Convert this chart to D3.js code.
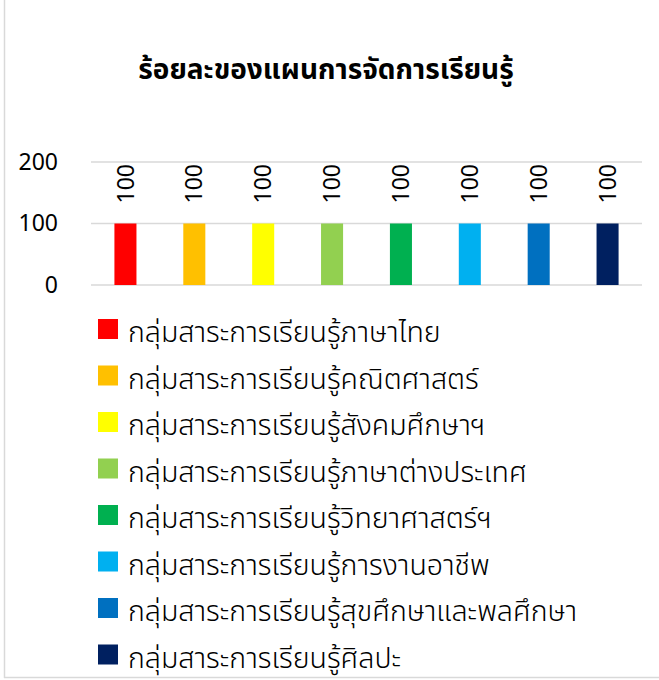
<!DOCTYPE html>
<html>
<head>
<meta charset="utf-8">
<script src="https://cdn.jsdelivr.net/npm/d3@7"></script>
<style>
  body { margin: 0; background: #fff; }
  text { font-family: "Noto Sans Thai", "Noto Sans", "DejaVu Sans", sans-serif; fill: #000; }
</style>
</head>
<body>
<div id="chart"></div>
<script>
var categories = ["กลุ่มสาระการเรียนรู้ภาษาไทย", "กลุ่มสาระการเรียนรู้คณิตศาสตร์", "กลุ่มสาระการเรียนรู้สังคมศึกษาฯ",
    "กลุ่มสาระการเรียนรู้ภาษาต่างประเทศ", "กลุ่มสาระการเรียนรู้วิทยาศาสตร์ฯ", "กลุ่มสาระการเรียนรู้การงานอาชีพ",
    "กลุ่มสาระการเรียนรู้สุขศึกษาและพลศึกษา", "กลุ่มสาระการเรียนรู้ศิลปะ"];
var values = [100, 100, 100, 100, 100, 100, 100, 100];
var colors = ["#FF0000", "#FFC000", "#FFFF00", "#92D050", "#00B050", "#00B0F0", "#0070C0", "#002060"];
var yTicks = [0, 100, 200];
var title = "ร้อยละของแผนการจัดการเรียนรู้";

var W = 659, H = 680;
var margin = {top: 162, right: 17, bottom: 395, left: 91},
    width = W - margin.left - margin.right,
    height = H - margin.top - margin.bottom;

var svg = d3.select("#chart").append("svg")
    .attr("width", W)
    .attr("height", H);

// outer frame (only left + bottom show)
svg.append("line").attr("x1", 4.5).attr("x2", 4.5).attr("y1", 0).attr("y2", 678)
    .attr("stroke", "#d9d9d9").attr("stroke-width", 1.5);
svg.append("line").attr("x1", 4).attr("x2", W).attr("y1", 677.5).attr("y2", 677.5)
    .attr("stroke", "#d9d9d9").attr("stroke-width", 1.5);

svg.append("text")
    .attr("x", 326)
    .attr("y", 79)
    .attr("text-anchor", "middle")
    .style("font-size", "28px")
    .style("font-weight", "bold")
    .text(title);

var g = svg.append("g")
    .attr("transform", "translate(" + margin.left + "," + margin.top + ")");

var x = d3.scaleBand()
    .domain(categories)
    .range([0, width])
    .paddingInner(0.68)
    .paddingOuter(0.34);

var y = d3.scaleLinear()
    .domain([0, 200])
    .range([height, 0]);

// gridlines
g.append("g")
    .selectAll("line")
    .data(yTicks)
    .enter().append("line")
    .attr("x1", 0)
    .attr("x2", width)
    .attr("y1", function(d) { return y(d); })
    .attr("y2", function(d) { return y(d); })
    .attr("stroke", "#d9d9d9")
    .attr("stroke-width", 1.5);

// y axis labels
var yAxis = d3.axisLeft(y).tickValues(yTicks).tickSize(0).tickPadding(33);
g.append("g")
    .attr("class", "y axis")
    .call(yAxis)
    .call(function(s) { s.select(".domain").remove(); })
    .selectAll("text")
    .style("font-size", "23px")
    .attr("fill", "#000");

// bars
g.selectAll(".bar")
    .data(values)
    .enter().append("rect")
    .attr("class", "bar")
    .attr("x", function(d, i) { return x(categories[i]); })
    .attr("width", x.bandwidth())
    .attr("y", function(d) { return y(d); })
    .attr("height", function(d) { return height - y(d); })
    .attr("fill", function(d, i) { return colors[i]; });

// value labels, rotated
g.selectAll(".lbl")
    .data(values)
    .enter().append("text")
    .attr("class", "lbl")
    .attr("transform", function(d, i) {
        var cx = x(categories[i]) + x.bandwidth() / 2;
        return "translate(" + cx + "," + (y(d) - 20) + ") rotate(-90)";
    })
    .attr("dy", "0.35em")
    .attr("text-anchor", "start")
    .style("font-size", "23px")
    .text(function(d) { return d; });

// legend
var legend = svg.append("g")
    .attr("transform", "translate(98,319)");

var item = legend.selectAll(".item")
    .data(categories)
    .enter().append("g")
    .attr("class", "item")
    .attr("transform", function(d, i) { return "translate(0," + (i * 46.5) + ")"; });

item.append("rect")
    .attr("width", 20)
    .attr("height", 20)
    .attr("fill", function(d, i) { return colors[i]; });

item.append("text")
    .attr("x", 30)
    .attr("y", 23)
    .style("font-size", "28.5px")
    .style("font-weight", 300)
    .text(function(d) { return d; });
</script>
</body>
</html>
